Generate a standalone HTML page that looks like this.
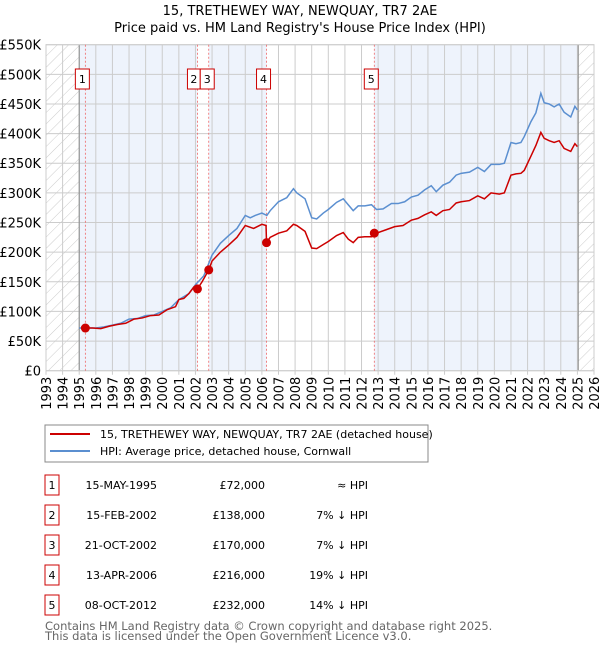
<!DOCTYPE html>
<html><head><meta charset="utf-8"><style>
body{margin:0;background:#fff;font-family:"DejaVu Sans","Liberation Sans",sans-serif;}
svg text{font-family:"DejaVu Sans","Liberation Sans",sans-serif;}
</style></head><body>
<svg id="c" width="600" height="650" xmlns="http://www.w3.org/2000/svg">
<defs><pattern id="hatch" width="8" height="8" patternUnits="userSpaceOnUse" patternTransform="rotate(45)"><line x1="0" y1="0" x2="0" y2="8" stroke="#ccc" stroke-width="1"/></pattern></defs>
<text x="300" y="15" text-anchor="middle" font-size="13">15, TRETHEWEY WAY, NEWQUAY, TR7 2AE</text>
<text x="300" y="32" text-anchor="middle" font-size="13">Price paid vs. HM Land Registry's House Price Index (HPI)</text>
<g id="plot"></g>
<rect x="45" y="425" width="383" height="37" fill="#fff" stroke="#888"/>
<line x1="50" y1="434" x2="90" y2="434" stroke="#cc0000" stroke-width="2"/>
<text x="100" y="438" font-size="11">15, TRETHEWEY WAY, NEWQUAY, TR7 2AE (detached house)</text>
<line x1="50" y1="451" x2="90" y2="451" stroke="#5b8fd0" stroke-width="2"/>
<text x="100" y="455" font-size="11">HPI: Average price, detached house, Cornwall</text>
<g id="table"></g>
<text x="45" y="630" font-size="11.5" fill="#666">Contains HM Land Registry data © Crown copyright and database right 2025.</text>
<text x="45" y="640" font-size="11.5" fill="#666">This data is licensed under the Open Government Licence v3.0.</text>
</svg>
<script>
const hpiYears=[1995,1995.5,1996,1996.5,1997,1997.5,1998,1998.5,1999,1999.5,2000,2000.5,2001,2001.3,2001.6,2002,2002.5,2003,2003.5,2004,2004.5,2005,2005.3,2005.6,2006,2006.3,2006.5,2007,2007.5,2007.9,2008.1,2008.6,2009,2009.3,2009.7,2010,2010.5,2010.9,2011.2,2011.5,2011.8,2012.2,2012.6,2012.9,2013.3,2013.8,2014.2,2014.6,2015,2015.4,2015.8,2016.2,2016.5,2016.9,2017.3,2017.7,2018,2018.5,2019,2019.4,2019.8,2020.3,2020.6,2021,2021.3,2021.6,2021.8,2022.2,2022.5,2022.8,2023,2023.3,2023.6,2023.9,2024.2,2024.6,2024.85,2025.0];
const hpiValues=[72,72,72,74,77,80,87,88,93,94,100,106,120,125,130,145,160,195,215,228,240,262,258,262,266,262,270,285,292,307,300,290,258,256,266,272,284,290,280,270,278,278,280,272,273,282,282,285,293,296,305,312,302,313,318,330,333,335,343,336,348,348,350,385,383,385,395,420,435,468,452,450,445,450,436,428,446,440];
const ppYears=[1995.37,1995.8,1996.3,1996.8,1997.3,1997.8,1998.3,1998.8,1999.3,1999.8,2000.3,2000.8,2001,2001.3,2001.6,2001.9,2002.12,2002.4,2002.8,2003,2003.5,2004,2004.5,2005,2005.5,2006,2006.25,2006.28,2006.5,2007,2007.5,2007.9,2008.1,2008.6,2009,2009.3,2009.7,2010,2010.5,2010.9,2011.2,2011.5,2011.8,2012.2,2012.6,2012.77,2013,2013.5,2014,2014.5,2015,2015.4,2015.8,2016.2,2016.5,2016.9,2017.3,2017.7,2018,2018.5,2019,2019.4,2019.8,2020.3,2020.6,2021,2021.3,2021.6,2021.8,2022.2,2022.5,2022.8,2023,2023.3,2023.6,2023.9,2024.2,2024.6,2024.85,2025.0];
const ppValues=[72,72,71,75,78,80,87,89,93,94,103,108,120,122,130,141,138,150,170,185,200,212,225,245,240,247,245,216,225,232,236,247,245,235,207,206,213,218,228,233,222,216,225,226,226,232,233,238,243,245,254,257,263,268,262,270,272,283,285,287,295,290,300,298,300,330,332,333,338,362,380,402,392,388,385,388,375,370,383,378];
const saleYears=[1995.37,2002.12,2002.8,2006.28,2012.77];
const saleValues=[72000,138000,170000,216000,232000];
const saleLabels=["1","2","3","4","5"];
const saleDates=["15-MAY-1995","15-FEB-2002","21-OCT-2002","13-APR-2006","08-OCT-2012"];
const salePrices=["£72,000","£138,000","£170,000","£216,000","£232,000"];
const saleHpi=["≈ HPI","7% ↓ HPI","7% ↓ HPI","19% ↓ HPI","14% ↓ HPI"];
const yTicks=[0,50,100,150,200,250,300,350,400,450,500,550];
const xTicks=[1993,1994,1995,1996,1997,1998,1999,2000,2001,2002,2003,2004,2005,2006,2007,2008,2009,2010,2011,2012,2013,2014,2015,2016,2017,2018,2019,2020,2021,2022,2023,2024,2025,2026];
const L=46,R=594,T=44.7,B=370.7;
const xs=y=>L+(y-1993)/(2026-1993)*(R-L);
const ys=v=>B-v/550*(B-T);
const NS="http://www.w3.org/2000/svg";
const g=document.getElementById('plot');
function mk(tag,attrs,parent){const e=document.createElementNS(NS,tag);for(const k in attrs)e.setAttribute(k,attrs[k]);(parent||g).appendChild(e);return e;}
const bands=[[1995,saleYears[1]],[saleYears[2],saleYears[3]],[saleYears[4],2025.05]];
bands.forEach((b,i)=>{const r=mk('rect',{x:xs(b[0]),y:T,width:xs(b[1])-xs(b[0]),height:B-T,fill:'#eef3fc'});

});
const h1=mk('rect',{x:L,y:T,width:xs(1995)-L,height:B-T,fill:'url(#hatch)'});


const h2=mk('rect',{x:xs(2025.05),y:T,width:R-xs(2025.05),height:B-T,fill:'url(#hatch)'});


yTicks.forEach(v=>{const l=mk('line',{x1:L,x2:R,y1:ys(v),y2:ys(v),stroke:'#ccc'});


const t=mk('text',{x:L-5,y:ys(v)+5,'text-anchor':'end','font-size':'13'});t.textContent=v===0?'£0':'£'+v+'K';

});
xTicks.forEach(y=>{const l=mk('line',{x1:xs(y),x2:xs(y),y1:T,y2:B+4,stroke:'#ccc'});


const t=mk('text',{x:0,y:0,'text-anchor':'end','font-size':'13',transform:`translate(${xs(y)+5},${B+6}) rotate(-90)`});t.textContent=y;

});
[1995,2025.05].forEach(y=>{const l=mk('line',{x1:xs(y),x2:xs(y),y1:T,y2:B,stroke:'#888'});

});
const ax=mk('rect',{x:L,y:T,width:R-L,height:B-T,fill:'none',stroke:'#ccc'});


saleYears.forEach((y,i)=>{const l=mk('line',{x1:xs(y),x2:xs(y),y1:T,y2:B,stroke:'#e66','stroke-dasharray':'2,2','stroke-width':'0.8'});

});
const hp=mk('polyline',{points:hpiYears.map((y,i)=>xs(y)+','+ys(hpiValues[i])).join(' '),fill:'none',stroke:'#5b8fd0','stroke-width':'1.5'});


const pp=mk('polyline',{points:ppYears.map((y,i)=>xs(y)+','+ys(ppValues[i])).join(' '),fill:'none',stroke:'#cc0000','stroke-width':'1.5'});


const boxX=[], boxW=[];
saleYears.forEach((y,i)=>{boxX.push(xs(y)-10);boxW.push(14);});
boxX[1]=xs(saleYears[1])-10;boxW[1]=xs(saleYears[2])-10-boxX[1]+1.5;boxX[2]=boxX[1]+boxW[1];
saleYears.forEach((y,i)=>{const c=mk('circle',{cx:xs(y),cy:ys(saleValues[i]/1000),r:4.5,fill:'#cc0000'});


const r=mk('rect',{x:boxX[i],y:69,width:boxW[i],height:20,fill:'#fff',stroke:'#cc0000'});


const t=mk('text',{x:boxX[i]+boxW[i]/2,y:83,'text-anchor':'middle','font-size':'11'});t.textContent=saleLabels[i];

});
const tb=document.getElementById('table');
saleLabels.forEach((s,i)=>{const cy=485+i*30;
const r=mk('rect',{x:45,y:cy-10,width:14,height:20,fill:'#fff',stroke:'#cc0000'},tb);


const a=mk('text',{x:52,y:cy+4,'text-anchor':'middle','font-size':'11'},tb);a.textContent=s;


const d=mk('text',{x:157,y:cy+4,'text-anchor':'end','font-size':'11'},tb);d.textContent=saleDates[i];


const p=mk('text',{x:265,y:cy+4,'text-anchor':'end','font-size':'11'},tb);p.textContent=salePrices[i];


const h=mk('text',{x:368,y:cy+4,'text-anchor':'end','font-size':'11'},tb);h.textContent=saleHpi[i];

});
</script>
</body></html>
